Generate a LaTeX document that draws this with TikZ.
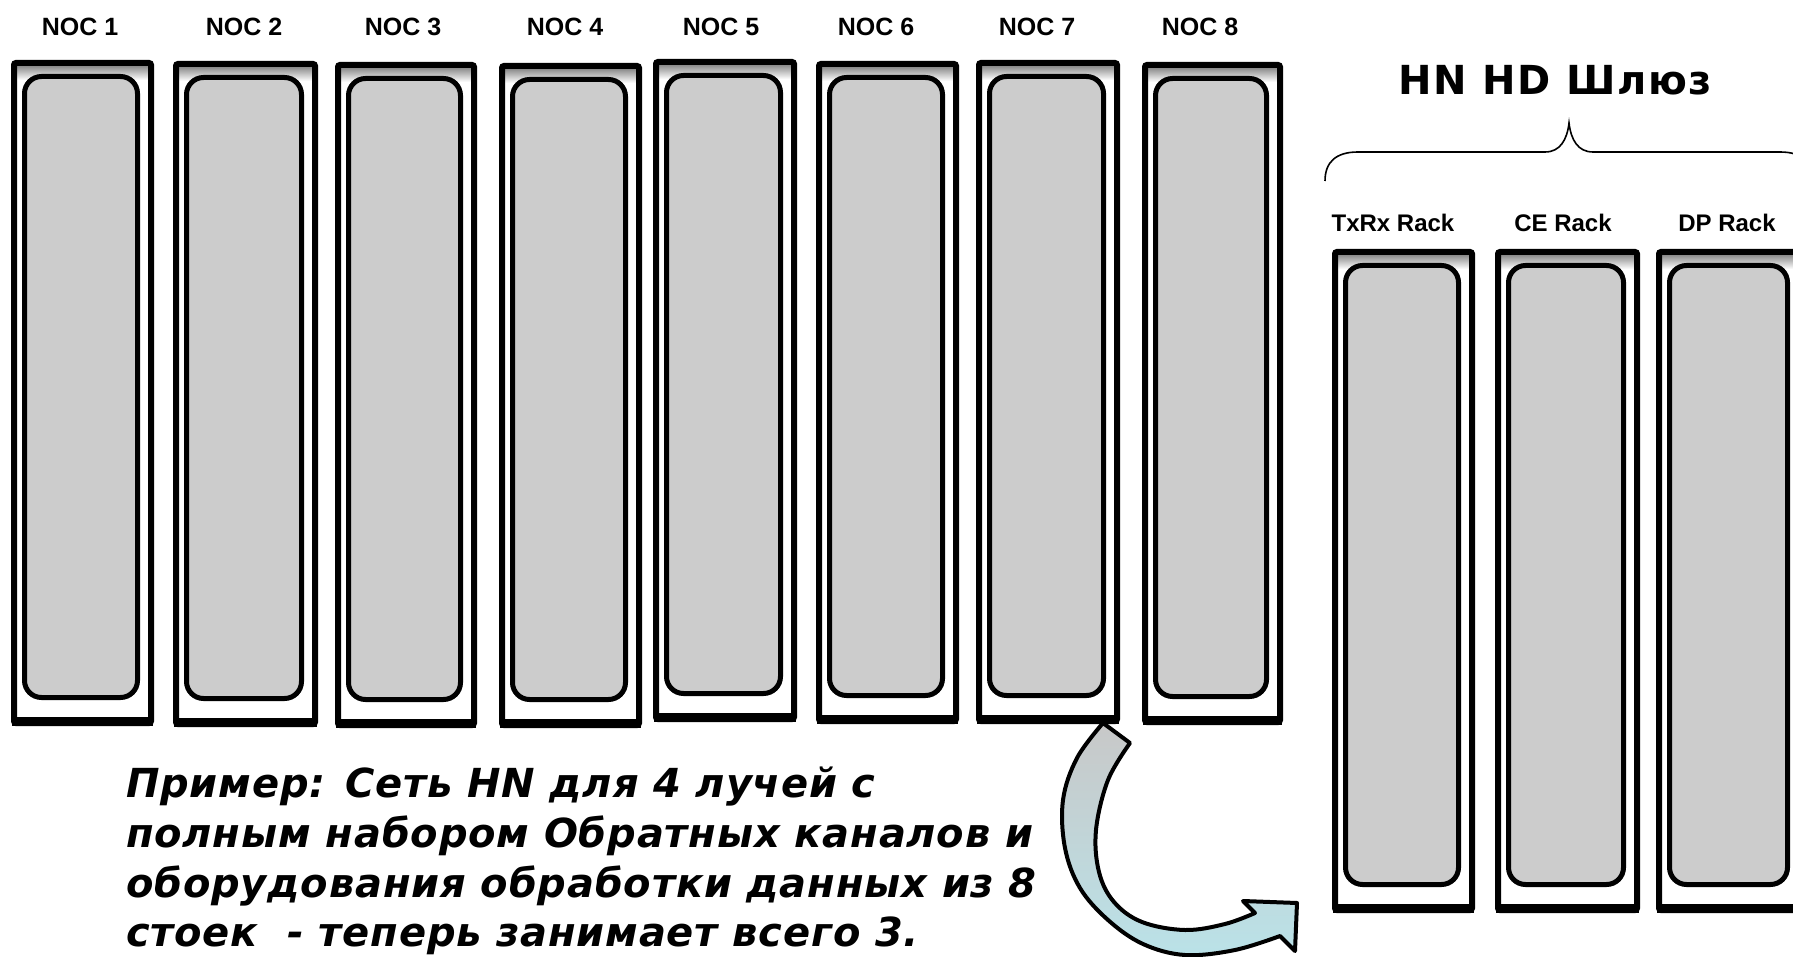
\documentclass[tikz,border=0pt]{standalone}
\usepackage{fontspec}
\setmainfont{Liberation Sans}
\newfontfamily\dvs{DejaVu Sans}
\newfontfamily\dvswide{DejaVu Sans}[LetterSpace=4]
\newfontfamily\dvsnote{DejaVu Sans}[LetterSpace=2]
\definecolor{rackgray}{RGB}{204,204,204}
\definecolor{arrowgray}{RGB}{200,200,200}
\definecolor{arrowcyan}{RGB}{186,226,232}
\tikzset{
  rackframe/.style={line width=6pt, rounded corners=2pt},
  rackcore/.style={line width=5pt, fill=rackgray, rounded corners=17pt},
  racklabel/.style={font=\bfseries\fontsize{25}{30}\selectfont, anchor=base, inner sep=0pt},
  subrack/.style={font=\bfseries\fontsize{24}{29}\selectfont, anchor=base, inner sep=0pt},
  notetext/.style={font=\dvsnote\bfseries\itshape\fontsize{40}{48}\selectfont, anchor=base west, inner sep=0pt},
}
\newcommand\drawrack[5]{%
  \fill[white] (#2,#3) rectangle (#4,#5);
  \shade[top color=black!45, bottom color=white] (#2+6,#3+6) rectangle (#4-6,#3+20);
  \draw[rackframe] (#2+3,#3+3) rectangle (#4-3,#5-3);
  \fill[black] (#2+1,#5-9) rectangle (#4-1,#5);
  \draw[rackcore] (#2+13.5,#3+16.5) rectangle (#4-16.5,#5-28.5);
  \coordinate (#1) at ({(#2+#4)/2},{(#3+#5)/2});
}
\begin{document}
\begin{tikzpicture}[x=1pt,y=-1pt]
\useasboundingbox (0,0) rectangle (1793,957);
\clip (0,0) rectangle (1793,957);
\fill[white] (0,0) rectangle (1793,957);

% NOC racks
\drawrack{noc1}{11}{60}{154}{726}
\drawrack{noc2}{173}{61}{318}{727}
\drawrack{noc3}{335}{62}{477}{728}
\drawrack{noc4}{499}{63}{642}{728}
\drawrack{noc5}{653}{59}{797}{722}
\drawrack{noc6}{816}{61}{959}{724}
\drawrack{noc7}{976}{60}{1120}{724}
\drawrack{noc8}{1142}{62}{1283}{725}

\node[racklabel] (l1) at (80,36) {NOC 1};
\node[racklabel] (l2) at (244,36) {NOC 2};
\node[racklabel] (l3) at (403,36) {NOC 3};
\node[racklabel] (l4) at (565,36) {NOC 4};
\node[racklabel] (l5) at (721,36) {NOC 5};
\node[racklabel] (l6) at (876,36) {NOC 6};
\node[racklabel] (l7) at (1037,36) {NOC 7};
\node[racklabel] (l8) at (1200,36) {NOC 8};

% gateway racks
\drawrack{txrx}{1332}{249}{1475}{913}
\drawrack{ce}{1495}{249}{1640}{913}
\drawrack{dp}{1656}{249}{1804}{913}

\node[subrack] (ltx) at (1393,232) {TxRx Rack};
\node[subrack] (lce) at (1563,232) {CE Rack};
\node[subrack] (ldp) at (1727,232) {DP Rack};

% brace
\draw[line width=1.6pt]
  (1325,181) .. controls (1325,162) and (1336,152) .. (1358,152)
  -- (1545,152) .. controls (1560,152) and (1567,140) .. (1569,123)
  .. controls (1571,140) and (1578,152) .. (1593,152)
  -- (1780,152) .. controls (1802,152) and (1813,162) .. (1813,181);

\node[font=\dvswide\bfseries\fontsize{40}{48}\selectfont, anchor=base, inner sep=0pt] (gw) at (1555,95) {HN HD Шлюз};

% curved arrow
\draw[line width=4pt, line join=round, top color=arrowgray, middle color=arrowgray!55!arrowcyan, bottom color=arrowcyan]
  (1103,723) -- (1130,743)
  -- plot[smooth, tension=0.6] coordinates {(1130,743) (1108,780) (1096,830) (1099,872) (1114,902) (1142,922) (1185,930) (1225,924) (1255,913)}
  -- (1243,901) -- (1297,903) -- (1295,951) -- (1280,936)
  -- plot[smooth, tension=0.6] coordinates {(1280,936) (1235,950) (1185,955) (1143,944) (1108,920) (1080,888) (1065,848) (1063,800) (1077,758) (1103,723)}
  -- cycle;

% note
\node[notetext] (t1) at (126,797) {Пример: Сеть HN для 4 лучей с};
\node[notetext] (t2) at (126,847.5) {полным набором Обратных каналов и};
\node[notetext] (t3) at (126,897.5) {оборудования обработки данных из 8};
\node[notetext] (t4) at (126,946.5) {стоек\ \ - теперь занимает всего 3.};
\end{tikzpicture}
\end{document}
